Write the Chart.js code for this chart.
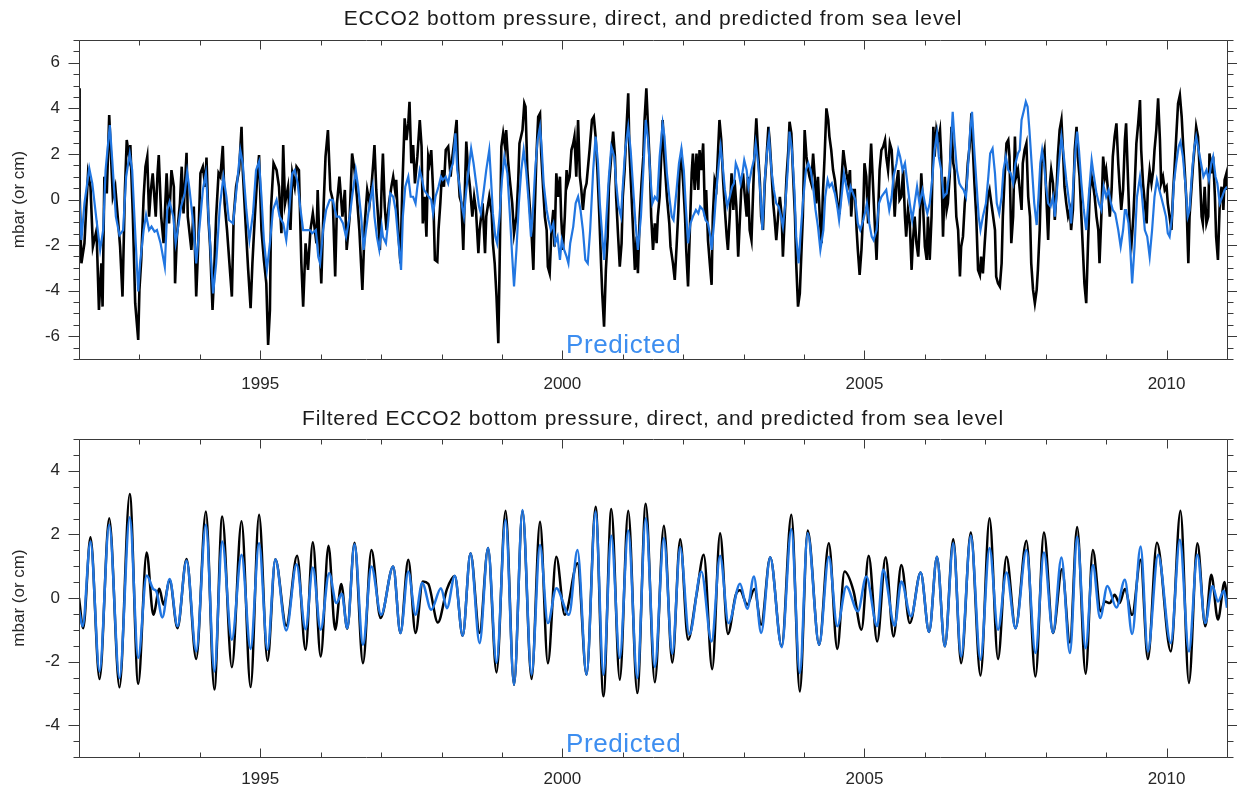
<!DOCTYPE html>
<html>
<head>
<meta charset="utf-8">
<script src="https://cdn.jsdelivr.net/npm/chart.js@4.4.1/dist/chart.umd.min.js"></script>
<style>
  body { margin: 0; background: #fff; }
  #wrap { position: relative; width: 1237px; height: 796px; }
  canvas { position: absolute; left: 0; }
  .ttl { position: absolute; left: 79px; width: 1148px; text-align: center; font: 21px/20px "Liberation Sans", Arial, sans-serif; letter-spacing: 0.85px; color: #1a1a1a; }
  .pred { position: absolute; left: 566px; font: 26px/26px "Liberation Sans", Arial, sans-serif; letter-spacing: 0.6px; color: #3d8ef0; }
</style>
</head>
<body>
<div id="wrap">
  <canvas id="topChart" width="1237" height="400" style="top:0"></canvas>
  <canvas id="botChart" width="1237" height="396" style="top:400px"></canvas>
  <div class="ttl" style="top:8px">ECCO2 bottom pressure, direct, and predicted from sea level</div>
  <div class="ttl" style="top:408px">Filtered ECCO2 bottom pressure, direct, and predicted from sea level</div>
  <div class="pred" style="top:331px">Predicted</div>
  <div class="pred" style="top:730px">Predicted</div>
</div>
<script>
// [year, mbar]
const directRaw = [
  [1992.00,4.88],[1992.01,0.3],[1992.04,-2.80],[1992.09,-1.92],[1992.15,1.15],[1992.19,0.56],[1992.23,-2.07],[1992.29,-1.34],[1992.33,-4.85],[1992.37,-2.80],
  [1992.39,-4.70],[1992.42,1.00],[1992.46,0.27],[1992.50,3.71],[1992.54,1.29],[1992.56,0.12],[1992.60,0.56],[1992.65,-1.05],[1992.68,-2.07],[1992.72,-4.26],
  [1992.76,0.42],[1992.79,2.61],[1992.83,1.88],[1992.85,2.39],[1992.89,-0.61],[1992.93,-4.55],[1992.98,-6.16],[1993.00,-3.97],[1993.03,-2.65],[1993.07,0.12],
  [1993.10,1.44],[1993.13,1.88],[1993.16,-0.75],[1993.19,0.42],[1993.22,1.15],[1993.27,-0.75],[1993.30,1.15],[1993.32,1.95],[1993.36,-0.75],[1993.40,-1.92],
  [1993.45,1.15],[1993.49,-1.05],[1993.53,1.29],[1993.57,0.56],[1993.59,-3.68],[1993.62,-1.63],[1993.67,-0.17],[1993.70,1.44],[1993.73,-0.61],[1993.78,2.05],
  [1993.80,-0.75],[1993.86,-2.21],[1993.90,-0.31],[1993.94,-4.26],[1993.97,-2.21],[1994.01,1.15],[1994.05,1.44],[1994.09,0.56],[1994.11,1.84],[1994.14,-0.75],
  [1994.17,-2.07],[1994.21,-4.85],[1994.23,-3.68],[1994.27,-0.75],[1994.31,1.15],[1994.34,1.00],[1994.38,2.35],[1994.41,-0.17],[1994.45,-1.34],[1994.49,-2.80],
  [1994.53,-4.26],[1994.56,-0.75],[1994.60,0.56],[1994.65,1.29],[1994.69,3.19],[1994.71,1.29],[1994.76,-1.19],[1994.80,-3.09],[1994.84,-4.77],[1994.87,-2.80],
  [1994.91,-0.75],[1994.95,1.00],[1994.98,1.95],[1995.02,-1.34],[1995.06,-2.65],[1995.10,-3.68],[1995.13,-6.38],[1995.16,-4.85],[1995.18,-0.31],[1995.22,1.59],
  [1995.27,1.29],[1995.31,0.56],[1995.35,-1.48],[1995.38,2.39],[1995.41,-0.17],[1995.46,0.56],[1995.50,-1.34],[1995.53,1.15],[1995.57,0.56],[1995.60,1.44],
  [1995.64,1.29],[1995.68,-2.80],[1995.71,-4.70],[1995.75,-1.92],[1995.79,-3.09],[1995.83,-1.34],[1995.87,-0.61],[1995.93,-1.92],[1995.95,0.42],[1995.98,-1.92],
  [1996.01,-3.68],[1996.05,-0.17],[1996.08,1.88],[1996.12,3.05],[1996.16,0.42],[1996.20,-0.02],[1996.24,-3.38],[1996.27,-0.17],[1996.31,1.00],[1996.36,-0.75],
  [1996.40,0.42],[1996.43,-2.21],[1996.48,-0.75],[1996.52,2.02],[1996.56,1.29],[1996.60,0.12],[1996.64,-1.34],[1996.69,-3.97],[1996.73,-1.05],[1996.77,0.42],
  [1996.81,-0.17],[1996.84,0.56],[1996.87,1.59],[1996.89,2.39],[1996.92,0.42],[1996.95,-0.75],[1996.98,-2.21],[1997.01,0.71],[1997.03,2.02],[1997.06,-0.31],
  [1997.09,-1.34],[1997.13,-0.17],[1997.17,0.56],[1997.20,1.00],[1997.23,0.42],[1997.25,0.86],[1997.29,-1.63],[1997.32,-2.80],[1997.35,0.42],[1997.39,3.56],
  [1997.42,2.61],[1997.45,3.34],[1997.47,4.29],[1997.50,1.59],[1997.53,2.39],[1997.56,0.71],[1997.60,1.88],[1997.64,3.49],[1997.67,2.32],[1997.69,-1.05],
  [1997.72,0.12],[1997.75,-1.63],[1997.78,1.88],[1997.80,1.59],[1997.83,2.17],[1997.86,0.42],[1997.89,-2.65],[1997.93,-2.73],[1997.95,-1.34],[1997.98,-0.17],
  [1998.01,1.29],[1998.04,0.56],[1998.07,2.17],[1998.11,2.32],[1998.15,1.00],[1998.18,1.88],[1998.22,2.76],[1998.25,3.49],[1998.27,1.59],[1998.30,0.12],
  [1998.33,-0.17],[1998.36,-2.21],[1998.38,-0.17],[1998.41,2.54],[1998.44,1.29],[1998.47,0.56],[1998.51,-0.75],[1998.54,0.12],[1998.57,-0.46],[1998.61,-2.36],
  [1998.63,-1.34],[1998.68,-0.17],[1998.72,-2.36],[1998.74,-0.75],[1998.79,0.12],[1998.83,-0.61],[1998.85,-1.92],[1998.88,-2.80],[1998.91,-4.26],[1998.94,-6.31],
  [1998.96,-3.09],[1998.99,2.32],[1999.02,2.90],[1999.05,2.32],[1999.07,3.05],[1999.10,1.73],[1999.13,0.86],[1999.17,-0.17],[1999.20,-1.48],[1999.24,-0.75],
  [1999.27,0.86],[1999.29,2.46],[1999.34,3.05],[1999.37,4.22],[1999.39,4.07],[1999.42,1.29],[1999.46,-0.31],[1999.49,-1.48],[1999.52,-3.09],[1999.54,-0.75],
  [1999.57,1.88],[1999.60,3.63],[1999.63,3.78],[1999.65,2.02],[1999.68,0.56],[1999.71,-0.75],[1999.74,-1.34],[1999.76,-2.95],[1999.79,-3.24],[1999.82,-1.34],
  [1999.85,-0.46],[1999.87,-2.07],[1999.90,1.15],[1999.93,0.12],[1999.96,1.00],[1999.98,-0.75],[2000.01,-2.21],[2000.04,-0.75],[2000.07,1.29],[2000.09,0.71],
  [2000.12,1.00],[2000.15,2.17],[2000.18,2.46],[2000.20,2.76],[2000.23,1.00],[2000.26,3.49],[2000.29,1.00],[2000.31,0.56],[2000.34,-0.46],[2000.37,0.42],
  [2000.40,0.71],[2000.43,1.59],[2000.45,2.17],[2000.49,3.49],[2000.52,3.63],[2000.55,2.76],[2000.58,1.29],[2000.61,-0.61],[2000.64,-2.80],[2000.66,-4.12],
  [2000.69,-5.58],[2000.72,-3.09],[2000.75,-1.63],[2000.77,0.56],[2000.80,1.59],[2000.84,2.98],[2000.87,1.88],[2000.89,0.12],[2000.92,-1.48],[2000.95,-2.95],
  [2000.98,-1.92],[2001.00,0.12],[2001.03,1.29],[2001.06,3.05],[2001.09,4.66],[2001.11,2.17],[2001.14,0.42],[2001.17,-1.34],[2001.20,-3.09],[2001.23,-1.63],
  [2001.25,-3.24],[2001.28,-0.75],[2001.31,0.71],[2001.34,1.88],[2001.36,3.49],[2001.39,4.88],[2001.42,3.05],[2001.45,1.29],[2001.47,-0.75],[2001.50,-2.21],
  [2001.53,-1.05],[2001.56,-1.92],[2001.58,-0.75],[2001.61,0.12],[2001.66,3.49],[2001.69,1.73],[2001.73,0.12],[2001.77,-1.05],[2001.79,-2.07],[2001.83,-2.80],
  [2001.86,-3.53],[2001.89,-2.07],[2001.92,-0.46],[2001.94,1.29],[2001.97,1.88],[2002.00,0.71],[2002.03,-0.75],[2002.05,-2.21],[2002.08,-3.82],[2002.11,-1.34],
  [2002.14,1.15],[2002.16,2.02],[2002.19,0.42],[2002.22,2.02],[2002.25,0.42],[2002.27,2.17],[2002.30,1.29],[2002.33,2.46],[2002.36,-0.75],[2002.38,0.42],
  [2002.41,-1.78],[2002.44,-2.80],[2002.47,-3.75],[2002.49,-0.75],[2002.52,0.86],[2002.55,0.56],[2002.58,2.32],[2002.60,3.49],[2002.63,2.61],[2002.66,0.86],
  [2002.69,-0.46],[2002.72,-1.63],[2002.74,-2.21],[2002.77,-0.75],[2002.80,1.15],[2002.83,-0.46],[2002.85,0.86],[2002.88,-0.31],[2002.91,-2.51],[2002.94,-0.75],
  [2002.96,0.42],[2002.99,1.15],[2003.02,0.12],[2003.05,-0.75],[2003.07,1.00],[2003.10,-1.34],[2003.13,-1.78],[2003.16,0.56],[2003.18,2.02],[2003.21,3.56],
  [2003.24,2.02],[2003.27,0.71],[2003.29,-0.75],[2003.32,-1.34],[2003.35,0.71],[2003.38,1.88],[2003.41,3.19],[2003.43,2.61],[2003.46,1.29],[2003.49,-0.17],
  [2003.51,-0.75],[2003.54,-1.78],[2003.57,-0.75],[2003.60,0.12],[2003.63,-0.75],[2003.65,-2.51],[2003.68,-0.75],[2003.71,1.00],[2003.74,2.17],[2003.76,3.41],
  [2003.79,2.90],[2003.82,1.00],[2003.85,-0.75],[2003.87,-2.80],[2003.90,-4.70],[2003.93,-4.12],[2003.96,-2.07],[2003.98,-0.75],[2004.01,3.05],[2004.04,1.88],
  [2004.07,1.29],[2004.09,1.00],[2004.12,0.71],[2004.15,2.02],[2004.18,0.86],[2004.20,-0.17],[2004.23,1.00],[2004.26,-0.75],[2004.29,-1.92],[2004.31,0.12],
  [2004.34,1.88],[2004.37,4.00],[2004.40,3.49],[2004.42,2.76],[2004.45,2.17],[2004.48,1.29],[2004.51,0.86],[2004.54,0.12],[2004.56,-0.31],[2004.59,-0.46],
  [2004.62,0.86],[2004.65,2.17],[2004.67,1.73],[2004.70,1.15],[2004.73,0.71],[2004.76,1.29],[2004.78,-0.75],[2004.81,0.42],[2004.84,0.42],[2004.87,-1.34],
  [2004.89,-2.21],[2004.92,-3.31],[2004.95,-2.21],[2004.98,-0.46],[2005.00,1.59],[2005.03,1.00],[2005.06,-1.05],[2005.09,1.29],[2005.11,2.46],[2005.14,0.71],
  [2005.17,-1.05],[2005.20,-2.65],[2005.22,-1.05],[2005.25,1.29],[2005.28,2.17],[2005.31,2.32],[2005.34,2.61],[2005.36,1.88],[2005.39,1.29],[2005.42,2.46],
  [2005.45,2.17],[2005.47,1.15],[2005.50,-0.75],[2005.53,0.71],[2005.56,1.29],[2005.58,-0.02],[2005.61,0.12],[2005.64,1.29],[2005.67,-0.75],[2005.69,-1.63],
  [2005.72,-0.46],[2005.75,-1.05],[2005.78,-3.09],[2005.80,-1.92],[2005.83,-0.75],[2005.86,-1.92],[2005.89,-2.51],[2005.91,-1.34],[2005.94,1.15],[2005.97,-0.31],
  [2006.00,-2.07],[2006.03,-2.65],[2006.05,-0.75],[2006.08,-2.65],[2006.11,-0.75],[2006.14,3.19],[2006.16,1.88],[2006.19,3.05],[2006.22,2.61],[2006.25,3.05],
  [2006.27,1.88],[2006.30,-1.63],[2006.33,1.00],[2006.36,-0.46],[2006.38,-0.17],[2006.41,1.00],[2006.44,3.19],[2006.47,1.59],[2006.49,1.29],[2006.52,-0.75],
  [2006.55,-1.34],[2006.58,-3.38],[2006.60,-2.07],[2006.63,-1.63],[2006.66,-0.17],[2006.69,0.71],[2006.71,1.59],[2006.74,2.32],[2006.77,3.78],[2006.80,1.88],
  [2006.82,0.71],[2006.85,-0.75],[2006.88,-3.09],[2006.91,-3.31],[2006.93,-2.51],[2006.96,-3.24],[2006.99,-1.92],[2007.02,-0.75],[2007.04,0.12],[2007.07,0.42],
  [2007.10,-0.17],[2007.13,-0.75],[2007.16,-1.34],[2007.18,-3.38],[2007.21,-3.68],[2007.24,-3.82],[2007.27,-2.80],[2007.29,-0.75],[2007.32,1.00],[2007.35,2.46],
  [2007.38,2.61],[2007.40,1.88],[2007.43,-1.92],[2007.46,-0.75],[2007.49,2.76],[2007.51,1.00],[2007.54,1.29],[2007.57,0.42],[2007.60,-0.46],[2007.62,1.59],
  [2007.65,2.17],[2007.68,2.46],[2007.71,0.12],[2007.74,-0.75],[2007.76,-2.80],[2007.79,-3.97],[2007.82,-4.55],[2007.85,-3.97],[2007.87,-3.09],[2007.90,-1.34],
  [2007.93,1.59],[2007.96,1.88],[2007.98,2.17],[2008.01,0.12],[2008.04,-1.78],[2008.07,0.71],[2008.09,1.29],[2008.12,0.71],[2008.15,-0.90],[2008.18,0.42],
  [2008.20,1.88],[2008.23,3.05],[2008.26,3.49],[2008.29,1.88],[2008.31,0.56],[2008.34,-0.17],[2008.37,-0.75],[2008.40,-0.46],[2008.42,-1.34],[2008.45,-0.46],
  [2008.48,2.17],[2008.51,3.19],[2008.53,1.88],[2008.56,1.00],[2008.59,-0.75],[2008.62,-2.51],[2008.64,-3.68],[2008.67,-4.55],[2008.70,-1.92],[2008.73,0.42],
  [2008.76,1.00],[2008.78,0.71],[2008.81,0.12],[2008.84,-0.75],[2008.87,-1.34],[2008.89,-2.80],[2008.92,-0.75],[2008.95,1.88],[2008.98,1.00],[2009.00,1.29],
  [2009.03,0.42],[2009.06,-0.75],[2009.09,0.42],[2009.11,1.88],[2009.14,2.76],[2009.17,3.34],[2009.20,1.59],[2009.22,0.71],[2009.25,-0.46],[2009.28,0.42],
  [2009.31,2.61],[2009.33,3.34],[2009.36,1.00],[2009.39,-1.34],[2009.42,-1.92],[2009.45,-0.75],[2009.47,0.42],[2009.50,2.46],[2009.53,3.34],[2009.56,4.36],
  [2009.58,2.17],[2009.61,0.71],[2009.64,-0.17],[2009.67,-1.05],[2009.69,0.42],[2009.72,1.29],[2009.75,0.71],[2009.78,1.29],[2009.80,2.17],[2009.83,3.05],
  [2009.86,4.44],[2009.89,2.61],[2009.91,0.71],[2009.94,1.00],[2009.97,0.42],[2010.00,0.56],[2010.02,-0.17],[2010.05,-0.75],[2010.08,-1.34],[2010.11,0.42],
  [2010.13,1.29],[2010.16,2.76],[2010.19,4.22],[2010.22,4.58],[2010.25,3.63],[2010.27,2.61],[2010.30,1.29],[2010.33,-0.17],[2010.36,-2.80],[2010.38,-0.75],
  [2010.41,0.42],[2010.44,1.59],[2010.47,2.46],[2010.49,3.19],[2010.52,2.76],[2010.55,1.15],[2010.58,-0.75],[2010.60,-1.05],[2010.63,0.56],[2010.66,-1.05],
  [2010.69,-0.75],[2010.71,2.02],[2010.74,1.15],[2010.77,1.88],[2010.80,0.12],[2010.82,-1.63],[2010.85,-2.65],[2010.88,-0.17],[2010.91,0.56],[2010.94,-0.46],
  [2010.96,0.86],[2010.99,1.15],[2011.00,0.42]
];

const predictedRaw = [
  [1992.00,0.27],[1992.04,-1.78],[1992.09,-0.17],[1992.17,1.37],[1992.22,0.71],[1992.29,-0.90],[1992.35,-2.21],[1992.40,-1.34],[1992.44,1.29],[1992.51,3.27],
  [1992.55,1.73],[1992.61,-0.75],[1992.67,-1.56],[1992.73,-1.34],[1992.78,1.00],[1992.84,2.02],[1992.88,1.29],[1992.92,-0.90],[1992.98,-4.04],[1993.01,-2.80],
  [1993.07,-1.34],[1993.11,-0.68],[1993.16,-1.34],[1993.20,-1.19],[1993.25,-1.41],[1993.29,-1.34],[1993.35,-1.92],[1993.42,-2.95],[1993.46,-0.46],[1993.50,-0.10],
  [1993.56,-0.75],[1993.60,-1.92],[1993.65,-1.05],[1993.69,-0.31],[1993.75,0.27],[1993.79,1.22],[1993.83,0.42],[1993.89,-1.05],[1993.94,-2.80],[1994.00,-1.05],
  [1994.05,0.42],[1994.10,1.15],[1994.15,-1.05],[1994.22,-4.12],[1994.27,-2.80],[1994.33,-0.31],[1994.39,1.00],[1994.44,0.12],[1994.48,-0.90],[1994.55,-1.05],
  [1994.60,0.27],[1994.67,2.17],[1994.71,1.59],[1994.77,-0.46],[1994.82,-1.78],[1994.88,-0.61],[1994.93,1.29],[1994.98,1.66],[1995.02,0.12],[1995.06,-1.78],
  [1995.11,-3.09],[1995.16,-1.92],[1995.21,-0.46],[1995.27,-0.02],[1995.32,-0.75],[1995.38,-1.05],[1995.43,-1.78],[1995.47,-0.75],[1995.53,1.15],[1995.57,1.29],
  [1995.62,0.71],[1995.66,-0.31],[1995.71,-1.34],[1995.77,-1.34],[1995.82,-1.34],[1995.86,-1.48],[1995.92,-1.34],[1995.96,-2.51],[1995.99,-2.80],[1996.04,-1.34],
  [1996.09,-0.46],[1996.15,-0.02],[1996.20,-0.02],[1996.26,-0.75],[1996.31,-0.75],[1996.37,-1.05],[1996.42,-1.63],[1996.48,-0.75],[1996.52,0.12],[1996.58,1.29],
  [1996.62,0.56],[1996.67,-0.75],[1996.71,-2.21],[1996.75,-1.34],[1996.81,-0.17],[1996.86,0.56],[1996.89,-0.75],[1996.93,-1.63],[1996.97,-2.21],[1997.01,-1.19],
  [1997.03,-1.63],[1997.08,-1.92],[1997.12,-0.90],[1997.15,0.27],[1997.20,0.12],[1997.24,-0.46],[1997.28,-1.63],[1997.33,-3.09],[1997.36,-0.75],[1997.40,0.56],
  [1997.45,1.00],[1997.49,0.12],[1997.53,0.12],[1997.57,-0.17],[1997.60,0.56],[1997.64,1.29],[1997.68,0.86],[1997.71,0.42],[1997.75,0.27],[1997.79,0.12],
  [1997.83,-0.02],[1997.86,-0.61],[1997.90,0.12],[1997.95,0.56],[1997.99,1.00],[1998.02,0.86],[1998.07,1.00],[1998.11,0.71],[1998.15,1.29],[1998.19,1.59],
  [1998.23,2.90],[1998.26,1.29],[1998.30,0.56],[1998.34,-0.31],[1998.37,-0.75],[1998.41,0.42],[1998.46,1.59],[1998.49,2.24],[1998.53,1.59],[1998.58,0.56],
  [1998.62,-0.31],[1998.65,-0.61],[1998.70,0.42],[1998.74,1.29],[1998.79,2.17],[1998.82,0.86],[1998.85,-0.61],[1998.89,-1.63],[1998.92,-1.92],[1998.96,-0.75],
  [1999.00,0.86],[1999.04,1.88],[1999.09,1.15],[1999.13,-0.61],[1999.17,-2.51],[1999.20,-3.82],[1999.24,-2.21],[1999.28,-0.17],[1999.32,1.29],[1999.36,2.17],
  [1999.40,1.29],[1999.44,-0.02],[1999.48,-1.63],[1999.52,-0.17],[1999.55,1.29],[1999.59,2.61],[1999.63,3.19],[1999.66,2.17],[1999.69,0.71],[1999.74,-0.46],
  [1999.77,-0.90],[1999.81,-1.34],[1999.85,-1.05],[1999.88,-1.92],[1999.92,-1.63],[1999.96,-2.65],[1999.99,-1.78],[2000.03,-2.21],[2000.07,-2.51],[2000.10,-2.80],
  [2000.13,-1.92],[2000.18,-1.19],[2000.22,-0.17],[2000.26,0.12],[2000.30,-0.46],[2000.34,-1.34],[2000.38,-2.65],[2000.42,-2.80],[2000.46,-1.34],[2000.51,1.29],
  [2000.55,2.76],[2000.59,1.59],[2000.62,-0.17],[2000.66,-1.63],[2000.69,-2.65],[2000.73,-0.75],[2000.77,1.00],[2000.81,2.32],[2000.86,1.88],[2000.89,0.71],
  [2000.93,-0.31],[2000.97,-0.75],[2001.00,0.56],[2001.04,2.17],[2001.09,3.19],[2001.13,2.17],[2001.17,0.56],[2001.21,-1.05],[2001.25,-2.21],[2001.30,-0.75],
  [2001.34,1.29],[2001.38,3.49],[2001.42,2.61],[2001.46,0.86],[2001.49,-0.17],[2001.53,0.12],[2001.57,-0.02],[2001.61,1.88],[2001.66,3.34],[2001.69,2.76],
  [2001.73,1.15],[2001.77,0.12],[2001.81,-0.75],[2001.84,-0.90],[2001.89,0.42],[2001.93,1.59],[2001.97,2.24],[2002.01,1.29],[2002.04,-0.17],[2002.08,-1.92],
  [2002.12,-1.05],[2002.16,-0.75],[2002.21,-0.46],[2002.25,-0.61],[2002.28,-0.31],[2002.33,-0.46],[2002.37,-0.90],[2002.41,-1.05],[2002.45,-1.63],[2002.47,-2.21],
  [2002.51,-1.05],[2002.55,0.42],[2002.59,1.59],[2002.62,2.32],[2002.65,1.59],[2002.69,0.42],[2002.73,-0.31],[2002.77,0.12],[2002.81,0.56],[2002.84,0.71],
  [2002.87,1.59],[2002.91,1.29],[2002.95,0.71],[2002.98,1.15],[2003.01,1.73],[2003.05,1.29],[2003.08,0.56],[2003.13,1.29],[2003.17,1.73],[2003.20,2.46],
  [2003.24,1.59],[2003.28,0.12],[2003.31,-1.34],[2003.35,0.86],[2003.39,2.17],[2003.42,2.76],[2003.46,1.29],[2003.50,0.42],[2003.54,-0.17],[2003.58,-0.31],
  [2003.62,-0.75],[2003.65,-1.19],[2003.69,-0.17],[2003.73,1.29],[2003.76,2.98],[2003.80,2.17],[2003.84,0.42],[2003.87,-1.63],[2003.91,-2.80],[2003.94,-1.63],
  [2003.98,-0.17],[2004.03,1.29],[2004.07,1.59],[2004.11,1.29],[2004.15,0.56],[2004.19,-0.46],[2004.23,-1.19],[2004.27,-2.21],[2004.32,-1.34],[2004.35,0.12],
  [2004.39,0.86],[2004.42,0.56],[2004.46,0.71],[2004.51,0.27],[2004.55,-0.31],[2004.58,-0.90],[2004.62,0.12],[2004.66,1.15],[2004.70,0.56],[2004.74,-0.02],
  [2004.77,0.56],[2004.81,0.27],[2004.85,-0.02],[2004.89,-1.05],[2004.93,-1.34],[2004.98,-0.90],[2005.02,-0.46],[2005.04,-0.17],[2005.08,-1.05],[2005.12,-1.63],
  [2005.15,-1.78],[2005.20,-1.34],[2005.24,-0.17],[2005.28,0.12],[2005.32,0.27],[2005.36,0.42],[2005.41,-0.46],[2005.45,0.12],[2005.48,1.00],[2005.53,1.59],
  [2005.56,2.17],[2005.59,1.88],[2005.63,1.29],[2005.67,1.59],[2005.71,0.71],[2005.75,-0.17],[2005.79,-0.90],[2005.83,-0.17],[2005.87,0.56],[2005.91,-0.17],
  [2005.96,0.42],[2006.00,-0.17],[2006.04,-0.61],[2006.08,-0.17],[2006.12,0.86],[2006.16,2.17],[2006.20,2.90],[2006.23,1.88],[2006.27,1.29],[2006.31,0.12],
  [2006.36,0.27],[2006.41,1.29],[2006.46,3.85],[2006.49,2.61],[2006.53,1.29],[2006.57,0.71],[2006.60,0.56],[2006.64,0.42],[2006.68,0.12],[2006.71,1.29],
  [2006.75,3.05],[2006.78,3.85],[2006.81,2.46],[2006.85,0.86],[2006.89,-0.75],[2006.92,-1.34],[2006.96,-0.75],[2007.01,-0.17],[2007.05,1.00],[2007.08,2.02],
  [2007.12,2.24],[2007.16,1.15],[2007.19,-0.17],[2007.23,-0.61],[2007.27,0.12],[2007.30,1.29],[2007.34,1.88],[2007.38,1.29],[2007.42,1.15],[2007.46,0.71],
  [2007.50,1.59],[2007.54,2.02],[2007.57,2.17],[2007.60,3.49],[2007.64,3.93],[2007.67,4.29],[2007.70,4.07],[2007.73,3.05],[2007.77,1.44],[2007.81,-0.17],
  [2007.85,-1.12],[2007.88,0.12],[2007.91,1.59],[2007.94,2.17],[2007.97,1.59],[2008.00,0.71],[2008.04,-0.17],[2008.08,-0.31],[2008.12,0.12],[2008.15,-0.75],
  [2008.19,0.56],[2008.22,1.59],[2008.26,2.76],[2008.30,1.88],[2008.34,0.86],[2008.39,-0.17],[2008.42,-1.05],[2008.46,0.86],[2008.50,2.46],[2008.52,2.98],
  [2008.55,2.17],[2008.59,0.71],[2008.63,-0.46],[2008.67,-1.34],[2008.72,0.42],[2008.76,1.73],[2008.79,1.15],[2008.84,0.27],[2008.88,-0.17],[2008.92,-0.46],
  [2008.96,0.56],[2009.00,0.12],[2009.04,0.42],[2009.08,-0.17],[2009.11,-0.46],[2009.15,-0.61],[2009.20,-1.34],[2009.24,-2.07],[2009.28,-1.34],[2009.31,-0.46],
  [2009.33,-0.46],[2009.37,-1.05],[2009.40,-2.21],[2009.43,-3.68],[2009.47,-2.07],[2009.51,0.12],[2009.56,1.00],[2009.59,0.27],[2009.64,-1.34],[2009.68,-1.63],
  [2009.72,-2.51],[2009.76,-1.34],[2009.80,0.12],[2009.84,0.86],[2009.88,0.42],[2009.91,0.12],[2009.95,-0.31],[2009.99,-0.75],[2010.02,-1.48],[2010.05,-1.63],
  [2010.09,-0.75],[2010.12,0.71],[2010.16,1.59],[2010.20,2.32],[2010.23,2.54],[2010.27,1.88],[2010.31,0.71],[2010.35,-0.75],[2010.38,-0.46],[2010.42,1.15],
  [2010.46,2.32],[2010.49,2.76],[2010.53,2.17],[2010.58,1.44],[2010.61,1.00],[2010.66,1.29],[2010.70,0.86],[2010.74,1.59],[2010.77,1.88],[2010.81,1.00],
  [2010.84,0.71],[2010.88,-0.17],[2010.92,0.12],[2010.96,0.42],[2011.00,0.56]
];

// filtered series: turning points
const directFiltered = [
  [1992.00,0.00],[1992.07,-0.95],[1992.19,1.91],[1992.34,-2.55],[1992.50,2.51],[1992.67,-2.81],[1992.84,3.27],[1992.98,-2.70],[1993.12,1.43],[1993.23,-0.53],
  [1993.33,0.29],[1993.40,-0.21],[1993.50,0.57],[1993.63,-0.95],[1993.78,1.23],[1993.94,-1.92],[1994.10,2.72],[1994.24,-2.88],[1994.37,2.56],[1994.53,-2.18],
  [1994.69,2.41],[1994.84,-2.80],[1994.98,2.62],[1995.12,-1.97],[1995.25,1.22],[1995.43,-0.87],[1995.61,1.33],[1995.75,-1.63],[1995.87,1.75],[1996.00,-1.84],
  [1996.13,1.64],[1996.24,-1.00],[1996.34,0.44],[1996.44,-0.97],[1996.56,1.74],[1996.70,-2.05],[1996.84,1.51],[1996.99,-0.63],[1997.20,0.99],[1997.32,-1.10],
  [1997.45,1.20],[1997.57,-1.10],[1997.69,0.52],[1997.78,0.45],[1997.94,-0.77],[1998.09,0.28],[1998.22,0.69],[1998.35,-1.19],[1998.48,1.41],[1998.63,-1.10],
  [1998.77,1.57],[1998.91,-2.34],[1999.06,2.74],[1999.20,-2.73],[1999.34,2.74],[1999.49,-2.55],[1999.63,2.40],[1999.76,-2.05],[1999.90,1.30],[2000.04,-0.53],
  [2000.25,1.09],[2000.40,-2.41],[2000.55,2.87],[2000.68,-3.09],[2000.81,2.80],[2000.95,-2.57],[2001.09,2.74],[2001.24,-2.99],[2001.38,2.96],[2001.53,-2.65],
  [2001.68,2.27],[2001.82,-2.03],[2001.95,1.85],[2002.08,-1.31],[2002.22,0.10],[2002.34,1.36],[2002.48,-2.24],[2002.61,2.04],[2002.74,-1.13],[2002.87,0.10],
  [2002.94,0.24],[2003.06,-0.21],[2003.18,0.28],[2003.29,-0.84],[2003.44,1.28],[2003.63,-1.52],[2003.79,2.62],[2003.93,-2.94],[2004.06,2.12],[2004.25,-1.47],
  [2004.41,1.72],[2004.55,-1.60],[2004.67,0.83],[2004.82,0.21],[2004.95,-1.00],[2005.07,1.33],[2005.21,-1.37],[2005.35,1.28],[2005.48,-1.21],[2005.61,1.04],
  [2005.75,-0.79],[2005.93,0.80],[2006.07,-1.07],[2006.20,1.30],[2006.33,-1.52],[2006.47,1.85],[2006.60,-2.05],[2006.76,2.06],[2006.92,-2.44],[2007.07,2.51],
  [2007.21,-1.92],[2007.35,1.30],[2007.50,-0.95],[2007.68,1.80],[2007.83,-2.47],[2007.97,2.06],[2008.12,-1.10],[2008.27,0.91],[2008.40,-1.40],[2008.52,2.23],
  [2008.66,-2.38],[2008.78,1.51],[2008.91,-0.42],[2008.98,-0.11],[2009.06,-0.16],[2009.14,0.10],[2009.22,-0.16],[2009.31,0.28],[2009.43,-0.53],[2009.57,1.20],
  [2009.69,-1.92],[2009.84,1.74],[2010.07,-1.68],[2010.23,2.74],[2010.37,-2.67],[2010.51,1.72],[2010.64,-0.89],[2010.74,0.73],[2010.85,-0.68],[2010.96,0.50],
  [2011.00,0.00]
];

const predictedFiltered = [
  [1992.00,-0.37],[1992.06,-0.89],[1992.19,1.78],[1992.34,-2.31],[1992.50,2.30],[1992.67,-2.52],[1992.84,2.54],[1992.98,-1.89],[1993.12,0.71],[1993.23,0.28],
  [1993.28,0.21],[1993.38,-0.61],[1993.50,0.60],[1993.63,-0.89],[1993.78,1.18],[1993.94,-1.68],[1994.10,2.30],[1994.24,-2.31],[1994.37,1.78],[1994.53,-1.31],
  [1994.69,1.36],[1994.84,-1.60],[1994.98,1.72],[1995.12,-1.63],[1995.25,1.22],[1995.43,-1.02],[1995.60,1.06],[1995.75,-0.98],[1995.87,0.96],[1996.00,-1.00],
  [1996.14,0.78],[1996.26,-0.16],[1996.35,0.13],[1996.44,-0.95],[1996.56,1.69],[1996.70,-1.47],[1996.84,0.99],[1997.00,-0.53],[1997.20,0.99],[1997.32,-1.10],
  [1997.45,0.83],[1997.57,-0.53],[1997.68,0.47],[1997.83,-0.37],[1997.99,0.31],[1998.09,-0.32],[1998.22,0.70],[1998.35,-1.19],[1998.48,1.41],[1998.63,-1.42],
  [1998.77,1.57],[1998.91,-2.04],[1999.06,2.46],[1999.20,-2.73],[1999.34,2.77],[1999.49,-2.41],[1999.63,1.67],[1999.76,-0.79],[1999.90,0.31],[2000.11,-0.53],
  [2000.25,1.51],[2000.40,-2.41],[2000.55,2.72],[2000.68,-2.41],[2000.81,1.96],[2000.95,-1.89],[2001.09,2.12],[2001.24,-2.52],[2001.38,2.51],[2001.53,-2.17],
  [2001.68,1.88],[2001.82,-1.75],[2001.95,1.60],[2002.10,-1.16],[2002.30,0.83],[2002.47,-1.37],[2002.61,1.33],[2002.75,-0.79],[2002.94,0.45],[2003.06,-0.34],
  [2003.17,0.68],[2003.29,-1.10],[2003.44,1.28],[2003.63,-1.55],[2003.79,2.16],[2003.93,-2.36],[2004.06,2.04],[2004.25,-1.47],[2004.41,1.30],[2004.55,-0.89],
  [2004.70,0.36],[2004.89,-0.42],[2005.03,0.68],[2005.21,-0.89],[2005.31,0.89],[2005.50,-0.87],[2005.61,0.52],[2005.77,-0.58],[2005.93,0.80],[2006.07,-1.07],
  [2006.20,1.30],[2006.33,-1.52],[2006.47,1.72],[2006.60,-1.84],[2006.76,1.96],[2006.92,-1.94],[2007.07,1.57],[2007.21,-1.00],[2007.35,0.80],[2007.50,-0.95],
  [2007.68,1.51],[2007.83,-1.73],[2007.97,1.43],[2008.12,-1.10],[2008.26,1.27],[2008.40,-1.73],[2008.52,1.93],[2008.66,-1.58],[2008.78,1.04],[2008.90,-0.63],
  [2009.02,0.38],[2009.17,-0.30],[2009.31,0.57],[2009.43,-1.13],[2009.57,1.62],[2009.69,-1.68],[2009.86,1.36],[2010.07,-1.42],[2010.22,1.83],[2010.37,-1.68],
  [2010.51,1.36],[2010.64,-0.79],[2010.76,0.38],[2010.85,-0.11],[2010.95,0.23],[2011.00,-0.31]
];

const yearTicks = [1995, 2000, 2005, 2010];
const topTicks = [-6, -4, -2, 0, 2, 4, 6];
const botTicks = [-4, -2, 0, 2, 4];

const FONT = '"Liberation Sans", Arial, sans-serif';
const BLUE = '#2176e1';

const toXY = pts => pts.map(p => ({ x: p[0], y: p[1] }));

// matlab-ish box: x ticks inward on both edges, y ticks outward on both sides
const frame = {
    id: 'frame',
    afterDraw(chart) {
        const { ctx, chartArea: a, scales: { x, y } } = chart;
        const L = Math.round(a.left) + 0.5, R = Math.round(a.right) + 0.5;
        const T = Math.round(a.top) + 0.5, B = Math.round(a.bottom) + 0.5;
        ctx.save();
        ctx.strokeStyle = '#3a3a3a';
        ctx.lineWidth = 1;
        ctx.beginPath();
        ctx.rect(L, T, R - L, B - T);
        for (let yr = Math.ceil(x.min); yr <= x.max; yr++) {
            const px = Math.round(x.getPixelForValue(yr)) + 0.5;
            const len = yr % 5 === 0 ? 9 : 5;
            ctx.moveTo(px, T); ctx.lineTo(px, T + len);
            ctx.moveTo(px, B); ctx.lineTo(px, B - len);
        }
        for (let i = 0; y.min + i * 0.5 <= y.max + 1e-9; i++) {
            const v = y.min + i * 0.5;
            const py = Math.round(y.getPixelForValue(v)) + 0.5;
            const len = Math.abs(v % 2) < 1e-9 ? 11 : 6;
            ctx.moveTo(L - len, py); ctx.lineTo(L, py);
            ctx.moveTo(R, py); ctx.lineTo(R + len, py);
        }
        ctx.stroke();
        ctx.restore();
    }
};

function makePanel(id, direct, predicted, opts) {
    return new Chart(document.getElementById(id), {
        type: 'line',
        data: {
            datasets: [
                {
                    data: toXY(predicted),
                    borderColor: BLUE,
                    borderWidth: opts.blueWidth,
                    pointRadius: 0,
                    cubicInterpolationMode: opts.smooth ? 'monotone' : 'default',
                    tension: 0,
                },
                {
                    data: toXY(direct),
                    borderColor: '#000',
                    borderWidth: opts.blackWidth,
                    pointRadius: 0,
                    cubicInterpolationMode: opts.smooth ? 'monotone' : 'default',
                    tension: 0,
                },
            ],
        },
        options: {
            responsive: false,
            animation: false,
            devicePixelRatio: 1,
            events: [],
            layout: { padding: { top: opts.top, right: 10, left: 0, bottom: 0 } },
            plugins: { legend: { display: false }, tooltip: { enabled: false } },
            scales: {
                x: {
                    type: 'linear',
                    min: 1992,
                    max: 2011,
                    grid: { display: false, drawTicks: false },
                    border: { display: false },
                    afterBuildTicks: s => { s.ticks = yearTicks.map(v => ({ value: v })); },
                    afterFit: s => { s.height = opts.xh; },
                    ticks: {
                        autoSkip: false,
                        maxRotation: 0,
                        padding: opts.xpad,
                        color: '#262626',
                        font: { family: FONT, size: 17 },
                        callback: v => String(v),
                    },
                },
                y: {
                    min: opts.ymin,
                    max: opts.ymax,
                    grid: { display: false, drawTicks: false },
                    border: { display: false },
                    afterBuildTicks: s => { s.ticks = opts.yticks.map(v => ({ value: v })); },
                    afterFit: s => { s.width = 79; },
                    ticks: {
                        padding: 19,
                        color: '#262626',
                        font: { family: FONT, size: 17 },
                        callback: v => String(v),
                    },
                    title: {
                        display: true,
                        text: 'mbar (or cm)',
                        color: '#262626',
                        font: { family: FONT, size: 17 },
                        padding: { top: 9, bottom: 0 },
                    },
                },
            },
        },
        plugins: [frame],
    });
}

makePanel('topChart', directRaw, predictedRaw, {
    top: 40, xh: 41, xpad: 15, ymin: -7, ymax: 7, yticks: topTicks,
    blackWidth: 2.6, blueWidth: 2.2, smooth: false,
});
makePanel('botChart', directFiltered, predictedFiltered, {
    top: 39, xh: 39, xpad: 12, ymin: -5, ymax: 5, yticks: botTicks,
    blackWidth: 2.5, blueWidth: 2.5, smooth: true,
});
</script>
</body>
</html>
